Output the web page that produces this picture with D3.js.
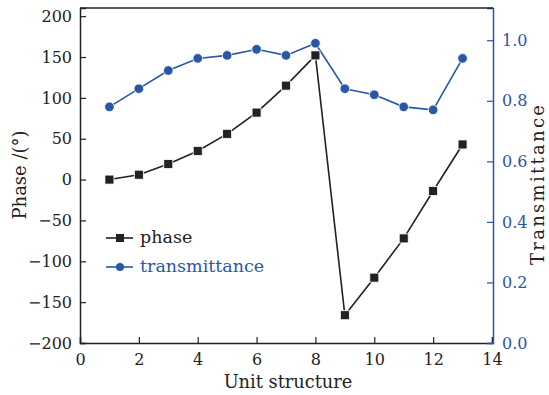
<!DOCTYPE html>
<html>
<head>
<meta charset="utf-8">
<script src="https://cdn.jsdelivr.net/npm/d3@7"></script>
<style>
  html, body { margin: 0; padding: 0; background: #fff; }
  svg { display: block; font-family: "DejaVu Serif", serif; }
</style>
</head>
<body>
<svg id="chart" width="549" height="395"></svg>
<script>
// Unit structure index and the two measured series
const units = [1, 2, 3, 4, 5, 6, 7, 8, 9, 10, 11, 12, 13];
const phase = [0, 6, 19, 35, 56, 82, 115, 152, -166, -120, -72, -14, 43];
const transmittance = [0.78, 0.84, 0.90, 0.94, 0.95, 0.97, 0.95, 0.99, 0.84, 0.82, 0.78, 0.77, 0.94];

const xTicks = [0, 2, 4, 6, 8, 10, 12, 14];
const phaseTicks = [-200, -150, -100, -50, 0, 50, 100, 150, 200];
const transTicks = [0.0, 0.2, 0.4, 0.6, 0.8, 1.0];

const BLACK = "#222222";
const BLUE = "#2a56a8";

const svg = d3.select("#chart");
const L = 80, R = 493, T = 8, B = 343;

const x = d3.scaleLinear().domain([0, 14]).range([L, R - 1]);
const yP = d3.scaleLinear().domain([-200, 210]).range([B, T]);
const yT = d3.scaleLinear().domain([0, 1.1065]).range([B, T]);

const fmtMinus = d => (d < 0 ? "\u2212" + Math.abs(d) : String(d));

// Axes with inward ticks
const gx = svg.append("g").attr("transform", `translate(0,${B})`)
  .call(d3.axisBottom(x).tickValues(xTicks).tickSize(-6).tickPadding(11).tickFormat(d3.format("d")));
const gy = svg.append("g").attr("transform", `translate(${L},0)`)
  .call(d3.axisLeft(yP).tickValues(phaseTicks).tickSize(-6).tickPadding(8).tickFormat(fmtMinus));
const gr = svg.append("g").attr("transform", `translate(${R},0)`)
  .call(d3.axisRight(yT).tickValues(transTicks).tickSize(-6).tickPadding(9).tickFormat(d3.format(".1f")));

[gx, gy].forEach(g => {
  g.select(".domain").attr("stroke", BLACK).attr("stroke-width", 1.5);
  g.selectAll(".tick line").attr("stroke", BLACK).attr("stroke-width", 1.2);
  g.selectAll(".tick text").attr("fill", BLACK).style("font-size", "16px").style("font-family", "DejaVu Serif");
});
gr.select(".domain").attr("stroke", BLUE).attr("stroke-width", 1.5);
gr.selectAll(".tick line").attr("stroke", BLUE).attr("stroke-width", 1.2);
gr.selectAll(".tick text").attr("fill", BLUE).style("font-size", "16px").style("font-family", "DejaVu Serif");

// Top frame line
svg.append("line").attr("x1", L).attr("x2", R).attr("y1", T).attr("y2", T)
  .attr("stroke", BLACK).attr("stroke-width", 1.5);

// Axis titles
svg.append("text").attr("x", 288).attr("y", 388).attr("text-anchor", "middle")
  .attr("fill", BLACK).style("font-size", "17.8px").text("Unit structure");
svg.append("text").attr("transform", "translate(26,175) rotate(-90)").attr("text-anchor", "middle")
  .attr("fill", BLACK).style("font-size", "18px").text("Phase /(°)");
svg.append("text").attr("transform", "translate(544,185) rotate(-90)").attr("text-anchor", "middle")
  .attr("fill", BLACK).style("font-size", "18px")
  .attr("textLength", 160).attr("lengthAdjust", "spacing").text("Transmittance");

// Series lines
const lineP = d3.line().x((d, i) => x(units[i])).y(d => yP(d));
const lineT = d3.line().x((d, i) => x(units[i])).y(d => yT(d));

svg.append("path").datum(transmittance).attr("d", lineT)
  .attr("fill", "none").attr("stroke", BLUE).attr("stroke-width", 1.6);
svg.append("path").datum(phase).attr("d", lineP)
  .attr("fill", "none").attr("stroke", BLACK).attr("stroke-width", 1.6);

// Markers
const sq = 9;
svg.append("g").selectAll("rect").data(phase).join("rect")
  .attr("x", (d, i) => x(units[i]) - sq / 2).attr("y", d => yP(d) - sq / 2)
  .attr("width", sq).attr("height", sq)
  .attr("fill", BLACK).attr("stroke", "#ffffff").attr("stroke-width", 0.8);
svg.append("g").selectAll("circle").data(transmittance).join("circle")
  .attr("cx", (d, i) => x(units[i])).attr("cy", d => yT(d)).attr("r", 4.8)
  .attr("fill", BLUE).attr("stroke", "#ffffff").attr("stroke-width", 0.8);

// Legend
const leg = svg.append("g");
const items = [
  { label: "phase", color: BLACK, shape: "square", y: 238 },
  { label: "transmittance", color: BLUE, shape: "circle", y: 267 }
];
items.forEach(it => {
  leg.append("line").attr("x1", 106).attr("x2", 133).attr("y1", it.y).attr("y2", it.y)
    .attr("stroke", it.color).attr("stroke-width", 1.6);
  if (it.shape === "square") {
    leg.append("rect").attr("x", 120 - 4).attr("y", it.y - 4).attr("width", 8).attr("height", 8)
      .attr("fill", it.color);
  } else {
    leg.append("circle").attr("cx", 120).attr("cy", it.y).attr("r", 4).attr("fill", it.color);
  }
  leg.append("text").attr("x", 140).attr("y", it.y + 5).attr("fill", it.color)
    .style("font-size", "17.5px").text(it.label);
});
</script>
</body>
</html>
